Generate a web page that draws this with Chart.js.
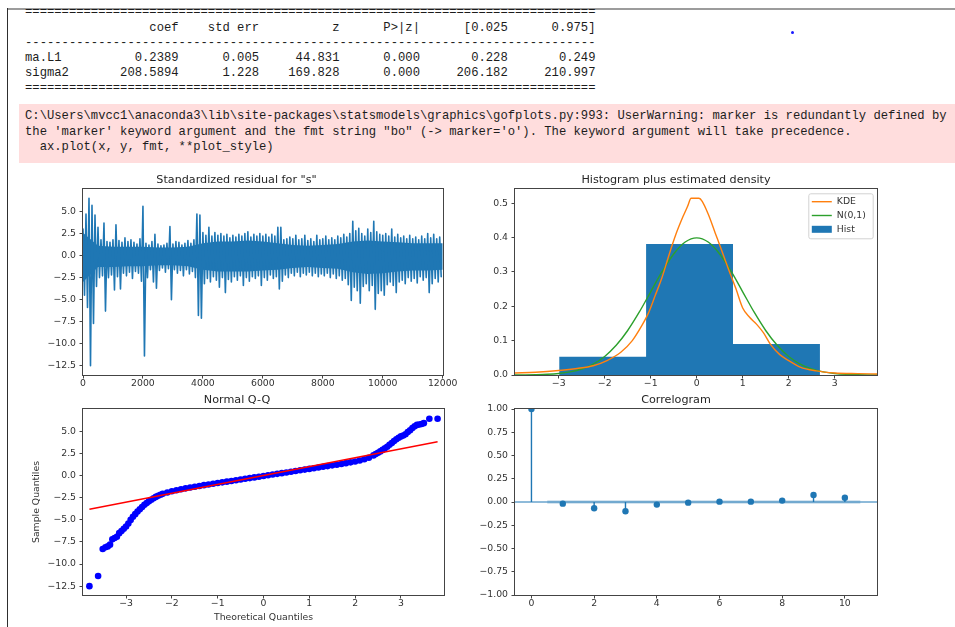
<!DOCTYPE html>
<html>
<head>
<meta charset="utf-8">
<title>SARIMAX diagnostics</title>
<script src="https://cdn.jsdelivr.net/npm/chart.js@4.4.1/dist/chart.umd.min.js"></script>
<style>
  body { margin: 0; width: 955px; height: 627px; overflow: hidden; background: #fff; position: relative; }
  #frameTop { position: absolute; left: 7px; top: 8px; width: 948px; height: 0; border-top: 2px solid #9c9c9c; }
  #frameLeft { position: absolute; left: 7px; top: 8px; width: 1px; height: 619px; background: #2e2e2e; }
  pre { font-family: "Liberation Mono", "DejaVu Sans Mono", monospace; font-size: 12.2px; line-height: 15.2px; margin: 0; color: #1c1c1c; }
  #summary { position: absolute; left: 25px; top: 5.4px; }
  #stderr { position: absolute; left: 19px; top: 104px; width: 936px; height: 59px; background: #fdd; }
  #stderr pre { position: absolute; left: 6px; top: 5.2px; line-height: 15.5px; }
  #dot { position: absolute; left: 791px; top: 31px; width: 3px; height: 3px; border-radius: 50%; background: #1a1aff; }
  canvas { position: absolute; }
</style>
</head>
<body>
<div id="frameTop"></div>
<div id="frameLeft"></div>
<div id="dot"></div>
<pre id="summary">==============================================================================
                 coef    std err          z      P&gt;|z|      [0.025      0.975]
------------------------------------------------------------------------------
ma.L1          0.2389      0.005     44.831      0.000       0.228       0.249
sigma2       208.5894      1.228    169.828      0.000     206.182     210.997
==============================================================================</pre>
<div id="stderr"><pre>C:\Users\mvcc1\anaconda3\lib\site-packages\statsmodels\graphics\gofplots.py:993: UserWarning: marker is redundantly defined by
the 'marker' keyword argument and the fmt string "bo" (-&gt; marker='o'). The keyword argument will take precedence.
  ax.plot(x, y, fmt, **plot_style)</pre></div>

<canvas id="residChart" width="433" height="225" style="left:30px;top:172px"></canvas>
<canvas id="histChart" width="414" height="225" style="left:475px;top:172px"></canvas>
<canvas id="qqChart" width="426" height="231" style="left:30px;top:392px"></canvas>
<canvas id="acfChart" width="414" height="225" style="left:475px;top:392px"></canvas>

<script>
// ---- 1. standardized residuals (max / min per 100-sample block) ----
const residT = [
    0, 100, 200, 300, 400, 500, 600, 700, 800, 900,
    1000, 1100, 1200, 1300, 1400, 1500, 1600, 1700, 1800, 1900,
    2000, 2100, 2200, 2300, 2400, 2500, 2600, 2700, 2800, 2900,
    3000, 3100, 3200, 3300, 3400, 3500, 3600, 3700, 3800, 3900,
    4000, 4100, 4200, 4300, 4400, 4500, 4600, 4700, 4800, 4900,
    5000, 5100, 5200, 5300, 5400, 5500, 5600, 5700, 5800, 5900,
    6000, 6100, 6200, 6300, 6400, 6500, 6600, 6700, 6800, 6900,
    7000, 7100, 7200, 7300, 7400, 7500, 7600, 7700, 7800, 7900,
    8000, 8100, 8200, 8300, 8400, 8500, 8600, 8700, 8800, 8900,
    9000, 9100, 9200, 9300, 9400, 9500, 9600, 9700, 9800, 9900,
    10000, 10100, 10200, 10300, 10400, 10500, 10600, 10700, 10800, 10900,
    11000, 11100, 11200, 11300, 11400, 11500, 11600, 11700, 11800, 11900
];
const residHigh = [
    3.0, 4.7, 6.5, 5.7, 4.6, 3.2, 1.8, 3.7, 1.6, 1.5,
    1.8, 3.5, 1.7, 1.5, 2.0, 1.6, 1.8, 1.5, 1.3, 1.9,
    5.6, 1.4, 1.2, 1.6, 2.4, 1.3, 1.1, 1.2, 1.4, 3.3,
    1.3, 1.6, 1.5, 1.2, 1.4, 1.7, 1.4, 1.8, 4.7, 4.6,
    2.6, 2.3, 3.2, 2.2, 2.6, 2.3, 2.5, 2.2, 2.4, 2.0,
    2.3, 2.1, 2.4, 2.2, 2.5, 2.7, 2.1, 2.4, 2.2, 2.5,
    2.2, 2.4, 2.1, 2.4, 2.2, 3.2, 3.2, 1.8, 1.9, 2.1,
    1.9, 2.3, 1.8, 1.9, 2.3, 1.7, 1.9, 1.6, 2.3, 1.8,
    1.9, 2.2, 1.8, 2.0, 1.8, 2.2, 2.0, 2.4, 2.1, 2.5,
    3.9, 2.8, 3.1, 2.5, 2.2, 3.0, 2.6, 3.9, 2.7, 2.4,
    2.3, 2.5, 2.2, 3.0, 2.1, 2.4, 2.0, 2.2, 1.9, 2.3,
    1.9, 2.1, 1.8, 2.2, 1.9, 2.5, 2.0, 2.4, 1.9, 2.1
];
const residLow = [
    -4.5, -5.9, -12.5, -7.7, -3.5, -2.5, -2.3, -6.3, -2.5, -2.2,
    -3.9, -2.4, -3.8, -2.0, -2.3, -1.9, -2.6, -1.8, -2.0, -2.9,
    -11.4, -2.5, -1.6, -3.0, -3.7, -1.7, -1.4, -1.9, -1.5, -5.0,
    -1.6, -2.0, -1.7, -2.3, -1.6, -2.1, -1.8, -2.5, -6.8, -7.1,
    -3.2, -2.6, -3.0, -2.4, -2.8, -3.6, -2.5, -4.2, -2.7, -3.0,
    -2.4, -2.8, -2.3, -3.4, -2.5, -2.9, -2.4, -2.6, -2.3, -3.4,
    -2.5, -2.8, -2.2, -2.6, -2.4, -3.8, -2.9, -2.2, -2.5, -2.0,
    -2.3, -1.9, -2.4, -2.0, -2.2, -1.9, -2.3, -2.0, -2.4, -2.1,
    -2.3, -2.0, -2.5, -2.1, -2.6, -2.3, -2.8, -2.6, -3.3, -5.1,
    -3.6, -4.0, -5.4, -3.5, -3.2, -4.0, -3.4, -6.1, -4.3, -4.0,
    -4.5, -3.3, -3.0, -3.4, -4.2, -3.0, -2.8, -3.2, -2.5, -2.9,
    -2.6, -3.1, -2.4, -2.8, -2.5, -4.2, -3.2, -2.6, -3.0, -2.4
];
// edges of the solid core of the band, every 500 samples
const residCoreT = [0, 500, 1000, 1500, 2000, 2500, 3000, 3500, 4000, 4500, 5000, 5500, 6000,
    6500, 7000, 7500, 8000, 8500, 9000, 9500, 10000, 10500, 11000, 11500, 12000];
const residCoreHigh = [2.6, 1.1, 1.0, 1.0, 1.0, 0.9, 0.9, 1.0, 1.4, 1.6, 1.6, 1.7, 1.6,
    1.4, 1.2, 1.1, 1.2, 1.3, 1.6, 1.7, 1.6, 1.5, 1.4, 1.4, 1.4];
const residCoreLow = [-3.0, -1.3, -1.3, -1.2, -1.2, -1.1, -1.1, -1.2, -1.6, -1.8, -1.8, -1.8, -1.7,
    -1.6, -1.4, -1.3, -1.4, -1.5, -1.9, -2.1, -2.0, -1.8, -1.7, -1.7, -1.6];
const residXTicks = [0, 2000, 4000, 6000, 8000, 10000, 12000];
const residYTicks = [5, 2.5, 0, -2.5, -5, -7.5, -10, -12.5];

// ---- 2. histogram + densities ----
const histEdges = [-2.99, -1.10, 0.79, 2.68];
const histHeights = [0.053, 0.381, 0.090];
const kdeX = [-3.95, -3.5, -3.0, -2.6, -2.25, -1.95, -1.65, -1.4, -1.2, -1.05, -0.9, -0.75, -0.6, -0.45, -0.3, -0.2, -0.12,
    0.05, 0.12, 0.25, 0.4, 0.55, 0.7, 0.85, 1.0, 1.15, 1.3, 1.45, 1.6, 1.8, 2.0, 2.25, 2.6, 3.0, 3.5, 3.92];
const kdeY = [0.006, 0.008, 0.013, 0.019, 0.027, 0.042, 0.066, 0.100, 0.142, 0.180, 0.232, 0.285, 0.350, 0.410, 0.460, 0.490, 0.514,
    0.514, 0.505, 0.468, 0.414, 0.360, 0.305, 0.252, 0.195, 0.168, 0.148, 0.123, 0.090, 0.060, 0.042, 0.023, 0.012, 0.006, 0.004, 0.003];
const normX = [-3.95, -3.75, -3.5, -3.25, -3, -2.75, -2.5, -2.25, -2, -1.75, -1.5, -1.25, -1, -0.75, -0.5, -0.25, 0,
    0.25, 0.5, 0.75, 1, 1.25, 1.5, 1.75, 2, 2.25, 2.5, 2.75, 3, 3.25, 3.5, 3.75, 3.92];
const normY = [0.0002, 0.0004, 0.0009, 0.002, 0.0044, 0.0091, 0.0175, 0.0317, 0.054, 0.0863, 0.1295, 0.1826, 0.242, 0.3011, 0.3521, 0.3867, 0.3989,
    0.3867, 0.3521, 0.3011, 0.242, 0.1826, 0.1295, 0.0863, 0.054, 0.0317, 0.0175, 0.0091, 0.0044, 0.002, 0.0009, 0.0004, 0.0002];
const histXTicks = [-3, -2, -1, 0, 1, 2, 3];
const histYTicks = [0, 0.1, 0.2, 0.3, 0.4, 0.5];

// ---- 3. normal Q-Q ----
const qqTheo = [-3.80, -3.61, -3.51, -3.45, -3.40, -3.35, -3.30, -3.25, -3.20, -3.15, -3.10, -3.05, -3.00, -2.95, -2.90, -2.85,
    -2.80, -2.75, -2.70, -2.65, -2.60, -2.55, -2.50, -2.45, -2.40, -2.35, -2.30, -2.25, -2.20, -2.10, -2.00, -1.90, -1.80,
    -1.70, -1.60, -1.50, -1.40, -1.30, -1.20, -1.10, -1.00, -0.90, -0.80, -0.70, -0.60, -0.50, -0.40, -0.30, -0.20, -0.10,
    0.00, 0.10, 0.20, 0.30, 0.40, 0.50, 0.60, 0.70, 0.80, 0.90, 1.00, 1.10, 1.20, 1.30, 1.40, 1.50, 1.60, 1.70, 1.80, 1.90,
    2.00, 2.10, 2.20, 2.30, 2.40, 2.45, 2.50, 2.55, 2.60, 2.65, 2.70, 2.75, 2.80, 2.85, 2.90, 2.95, 3.00, 3.05, 3.10, 3.15,
    3.20, 3.25, 3.30, 3.35, 3.40, 3.45, 3.50, 3.62, 3.80];
const qqSample = [-12.5, -11.35, -8.3, -8.1, -8.0, -7.8, -7.2, -7.05, -6.9, -6.5, -6.25, -6.0, -5.75, -5.4, -5.0, -4.65,
    -4.35, -4.05, -3.8, -3.55, -3.3, -3.1, -2.9, -2.72, -2.55, -2.4, -2.27, -2.15, -2.05, -1.9, -1.76, -1.64, -1.53,
    -1.43, -1.34, -1.25, -1.16, -1.07, -0.99, -0.91, -0.83, -0.75, -0.67, -0.59, -0.51, -0.43, -0.35, -0.27, -0.19, -0.11,
    -0.03, 0.05, 0.13, 0.21, 0.29, 0.37, 0.45, 0.53, 0.61, 0.69, 0.77, 0.85, 0.93, 1.01, 1.09, 1.17, 1.25, 1.33, 1.42, 1.51,
    1.61, 1.72, 1.86, 2.04, 2.3, 2.45, 2.6, 2.75, 2.92, 3.1, 3.28, 3.5, 3.7, 3.92, 4.12, 4.3, 4.45, 4.55, 4.7, 4.95,
    5.15, 5.4, 5.6, 5.75, 5.8, 5.85, 5.95, 6.45, 6.45];
const qqLineX = [-3.8, 3.8];
const qqLineY = [-3.79, 3.85];
const qqXTicks = [-3, -2, -1, 0, 1, 2, 3];
const qqYTicks = [5, 2.5, 0, -2.5, -5, -7.5, -10, -12.5];

// ---- 4. correlogram ----
const acfLags = [0, 1, 2, 3, 4, 5, 6, 7, 8, 9, 10];
const acfValues = [1.0, -0.018, -0.068, -0.1, -0.028, -0.007, 0.004, 0.004, 0.015, 0.075, 0.045];
const acfConfX = [0.5, 10.5];
const acfConf = 0.018;
const acfXTicks = [0, 2, 4, 6, 8, 10];
const acfYTicks = [1, 0.75, 0.5, 0.25, 0, -0.25, -0.5, -0.75, -1];

const C0 = '#1f77b4', C1 = '#ff7f0e', C2 = '#2ca02c';

// frame round the axes, like matplotlib spines
const axesFrame = {
    id: 'axesFrame',
    afterDraw(chart) {
        const { ctx, chartArea: a } = chart;
        ctx.save();
        ctx.strokeStyle = '#444';
        ctx.lineWidth = 1;
        ctx.strokeRect(a.left - 0.5, a.top - 0.5, a.right - a.left + 1, a.bottom - a.top + 1);
        ctx.restore();
    }
};

// boxed legend in the upper right corner of the axes
const mplLegend = {
    id: 'mplLegend',
    afterDatasetsDraw(chart, args, opts) {
        if (!opts.items) return;
        const { ctx, chartArea } = chart;
        const x0 = chartArea.right - opts.right - opts.width;
        const y0 = chartArea.top + opts.top;
        ctx.save();
        ctx.fillStyle = 'rgba(255,255,255,0.85)';
        ctx.strokeStyle = '#d2d2d2';
        ctx.lineWidth = 1;
        ctx.beginPath();
        ctx.roundRect(x0 + 0.5, y0 + 0.5, opts.width, opts.height, 2);
        ctx.fill();
        ctx.stroke();
        ctx.font = '9.3px "DejaVu Sans"';
        ctx.textBaseline = 'middle';
        opts.items.forEach((it, i) => {
            const y = y0 + opts.rowTop + i * opts.rowGap;
            const hx = x0 + 3.5;
            if (it.patch) {
                ctx.fillStyle = it.color;
                ctx.fillRect(hx, y - 3.5, 20, 7);
            } else {
                ctx.strokeStyle = it.color;
                ctx.lineWidth = 1.4;
                ctx.beginPath();
                ctx.moveTo(hx, y);
                ctx.lineTo(hx + 20, y);
                ctx.stroke();
            }
            ctx.fillStyle = '#333';
            ctx.fillText(it.label, hx + 25, y);
        });
        ctx.restore();
    }
};

Chart.register(axesFrame, mplLegend);
Chart.defaults.font.family = '"DejaVu Sans", sans-serif';
Chart.defaults.color = '#333';

const mpl = digits => v => v.toFixed(digits).replace('-', '\u2212');

function axis(ticks, min, max, fmt, size, extra = {}) {
    return {
        type: 'linear',
        min: min,
        max: max,
        afterBuildTicks: s => { s.ticks = ticks.map(v => ({ value: v })); },
        afterFit: s => { if (s.isHorizontal()) s.height = size; else s.width = size; },
        grid: { display: true, drawOnChartArea: false, drawTicks: true, tickLength: 3.5, color: '#444', lineWidth: 1 },
        border: { display: false },
        ticks: { callback: fmt, autoSkip: false, maxRotation: 0, padding: extra.pad ?? 3.5, color: '#333', font: { size: 9.3 } },
        title: extra.title || { display: false }
    };
}

function options(title, x, y, padRight, plugins = {}) {
    return {
        responsive: false,
        devicePixelRatio: 1,
        animation: false,
        events: [],
        layout: { padding: { top: 0, left: 0, bottom: 0, right: padRight } },
        elements: { point: { radius: 0 } },
        scales: { x: x, y: y },
        plugins: Object.assign({
            legend: { display: false },
            tooltip: { enabled: false },
            title: {
                display: true, text: title, color: '#262626',
                font: { size: 11.2, weight: 'normal' },
                padding: { top: 1.5, bottom: 2.06 }
            }
        }, plugins)
    };
}

const pts = (xs, ys) => xs.map((x, i) => ({ x: x, y: ys[i] }));

document.addEventListener('DOMContentLoaded', () => {
    initResid();
    initHist();
    initQQ();
    initAcf();
});

function initResid() {
    // each block: its max, then its min half a block later -> dense zigzag
    const zigzag = [];
    residT.forEach((t, i) => {
        zigzag.push({ x: t, y: residHigh[i] });
        zigzag.push({ x: t + 50, y: residLow[i] });
    });
    new Chart(document.getElementById('residChart'), {
        type: 'line',
        data: {
            datasets: [
                {
                    data: zigzag, borderColor: C0, borderWidth: 1.6,
                    borderJoinStyle: 'round', borderCapStyle: 'round', fill: false, tension: 0
                },
                { data: pts(residCoreT, residCoreHigh), borderWidth: 0, backgroundColor: C0, fill: '+1', tension: 0 },
                { data: pts(residCoreT, residCoreLow), borderWidth: 0, fill: false, tension: 0 }
            ]
        },
        options: options('Standardized residual for "s"',
            axis(residXTicks, 0, 12010, v => String(v), 22, { pad: 0 }),
            axis(residYTicks, -13.55, 7.55, mpl(1), 53), 20)
    });
}

function initHist() {
    const bars = [{ x: histEdges[0], y: 0 }];
    histHeights.forEach((h, i) => {
        bars.push({ x: histEdges[i], y: h });
        bars.push({ x: histEdges[i + 1], y: h });
    });
    bars.push({ x: histEdges[histEdges.length - 1], y: 0 });

    new Chart(document.getElementById('histChart'), {
        type: 'line',
        data: {
            datasets: [
                { label: 'KDE', data: pts(kdeX, kdeY), borderColor: C1, borderWidth: 1.4, cubicInterpolationMode: 'monotone', fill: false },
                { label: 'N(0,1)', data: pts(normX, normY), borderColor: C2, borderWidth: 1.4, cubicInterpolationMode: 'monotone', fill: false },
                { label: 'Hist', data: bars, borderWidth: 0, backgroundColor: C0, fill: 'origin', tension: 0 }
            ]
        },
        options: options('Histogram plus estimated density',
            axis(histXTicks, -3.95, 3.92, mpl(0), 22, { pad: 0 }),
            axis(histYTicks, 0, 0.541, mpl(1), 40), 12, {
                mplLegend: {
                    right: 4.3, top: 4.3, width: 64.4, height: 45, rowTop: 8.4, rowGap: 13.8,
                    items: [
                        { label: 'KDE', color: C1 },
                        { label: 'N(0,1)', color: C2 },
                        { label: 'Hist', color: C0, patch: true }
                    ]
                }
            })
    });
}

function initQQ() {
    new Chart(document.getElementById('qqChart'), {
        type: 'line',
        data: {
            datasets: [
                { data: pts(qqLineX, qqLineY), borderColor: '#ff0000', borderWidth: 1.4, fill: false },
                { data: pts(qqTheo, qqSample), showLine: false, pointRadius: 3.3, pointBorderWidth: 0, pointBackgroundColor: '#0000ff' }
            ]
        },
        options: options('Normal Q-Q',
            axis(qqXTicks, -3.94, 3.94, mpl(0), 28, {
                pad: 0,
                title: { display: true, text: 'Theoretical Quantiles', color: '#333', font: { size: 9.3 }, padding: { top: 0, bottom: 0 } }
            }),
            axis(qqYTicks, -13.5, 7.55, mpl(1), 53, {
                title: { display: true, text: 'Sample Quantiles', color: '#333', font: { size: 9.3 }, padding: { top: 1, bottom: 0 } }
            }), 12)
    });
}

function initAcf() {
    const stems = [];
    acfLags.forEach((k, i) => {
        stems.push({ x: k, y: 0 }, { x: k, y: acfValues[i] }, { x: k, y: null });
    });
    new Chart(document.getElementById('acfChart'), {
        type: 'line',
        data: {
            datasets: [
                { data: pts(acfLags, acfValues), showLine: false, pointRadius: 3.2, pointBorderWidth: 0, pointBackgroundColor: C0 },
                { data: stems, borderColor: C0, borderWidth: 1.4, fill: false, spanGaps: false },
                { data: [{ x: -0.525, y: 0 }, { x: 11.025, y: 0 }], borderColor: C0, borderWidth: 1, fill: false },
                { data: acfConfX.map(x => ({ x: x, y: acfConf })), borderWidth: 0, backgroundColor: 'rgba(31,119,180,0.25)', fill: '+1' },
                { data: acfConfX.map(x => ({ x: x, y: -acfConf })), borderWidth: 0, fill: false }
            ]
        },
        options: options('Correlogram',
            axis(acfXTicks, -0.525, 11.025, mpl(0), 22, { pad: 0 }),
            axis(acfYTicks, -1, 1, mpl(2), 40), 12)
    });
}
</script>
</body>
</html>
